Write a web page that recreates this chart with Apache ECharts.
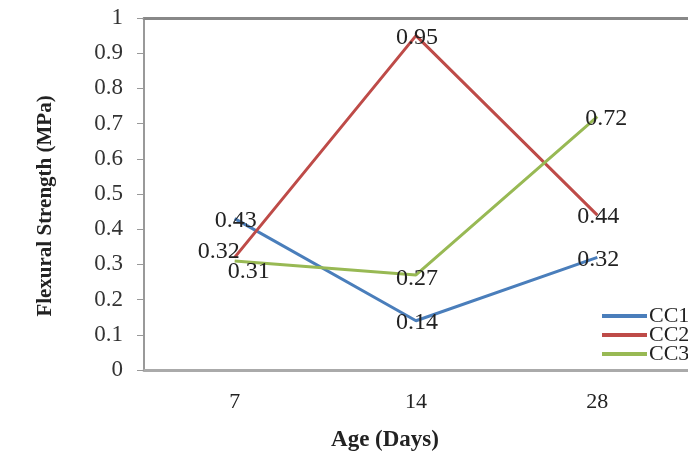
<!DOCTYPE html>
<html>
<head>
<meta charset="utf-8">
<script src="https://cdn.jsdelivr.net/npm/echarts@6/dist/echarts.min.js"></script>
<style>
  html, body { margin: 0; padding: 0; background: #fff; }
  #main { width: 688px; height: 457px; }
</style>
</head>
<body>
<div id="main"></div>
<script>
var ages = ['7', '14', '28'];
var cc1 = [0.43, 0.14, 0.32];
var cc2 = [0.32, 0.95, 0.44];
var cc3 = [0.31, 0.27, 0.72];

var serif = '"Liberation Serif", "DejaVu Serif", serif';

// label offsets per point, so labels sit where the original put them
function withLabels(values, offsets) {
  return values.map(function (v, i) {
    var item = { value: v };
    if (offsets && offsets[i]) {
      item.label = { offset: offsets[i] };
    }
    return item;
  });
}

function lineSeries(name, color, values, offsets) {
  return {
    name: name,
    type: 'line',
    data: withLabels(values, offsets),
    symbol: 'circle',
    symbolSize: 0,
    showSymbol: true,
    lineStyle: { color: color, width: 3 },
    itemStyle: { color: color },
    label: {
      show: true,
      position: 'inside',
      offset: [1, 2],
      color: '#222',
      fontFamily: serif,
      fontSize: 24
    }
  };
}

var myChart = echarts.init(document.getElementById('main'));
myChart.setOption({
  animation: false,
  grid: { left: 144, right: 0, top: 18, bottom: 87 },
  legend: {
    orient: 'vertical',
    left: 597,
    top: 300,
    itemGap: -3,
    itemWidth: 45,
    itemHeight: 4,
    icon: 'rect',
    textStyle: { fontFamily: serif, fontSize: 22, color: '#222', padding: [0, 0, 0, -3] },
    data: ['CC1', 'CC2', 'CC3']
  },
  xAxis: [{
    type: 'category',
    data: ages,
    name: 'Age (Days)',
    nameLocation: 'middle',
    nameGap: 59,
    nameTextStyle: { fontFamily: serif, fontSize: 23, fontWeight: 'bold', color: '#222', padding: [0, 62, 0, 0] },
    axisLine: { lineStyle: { color: '#aaa', width: 3 } },
    axisTick: { show: false },
    axisLabel: { fontFamily: serif, fontSize: 22, color: '#222', margin: 21 }
  }, {
    type: 'category',
    data: ages,
    position: 'top',
    axisLine: { lineStyle: { color: '#888', width: 3 } },
    axisTick: { show: false },
    axisLabel: { show: false }
  }],
  yAxis: {
    type: 'value',
    min: 0,
    max: 1,
    interval: 0.1,
    name: 'Flexural Strength (MPa)',
    nameLocation: 'middle',
    nameGap: 88,
    nameTextStyle: { fontFamily: serif, fontSize: 21, fontWeight: 'bold', color: '#222', padding: [0, 24, 0, 0] },
    axisLine: { show: true, lineStyle: { color: '#999', width: 2 } },
    axisTick: { show: true, inside: false, length: 7, lineStyle: { color: '#999' } },
    splitLine: { show: false },
    axisLabel: {
      fontFamily: serif, fontSize: 23, color: '#333', margin: 21,
      formatter: function (v) { return String(Math.round(v * 10) / 10); }
    }
  },
  series: [
    lineSeries('CC1', '#4a7ebb', cc1),
    lineSeries('CC2', '#be4b48', cc2, [[-16, -6], null, null]),
    lineSeries('CC3', '#98b954', cc3, [[14, 11], [1, 4], [9, 2]])
  ]
});
</script>
</body>
</html>
